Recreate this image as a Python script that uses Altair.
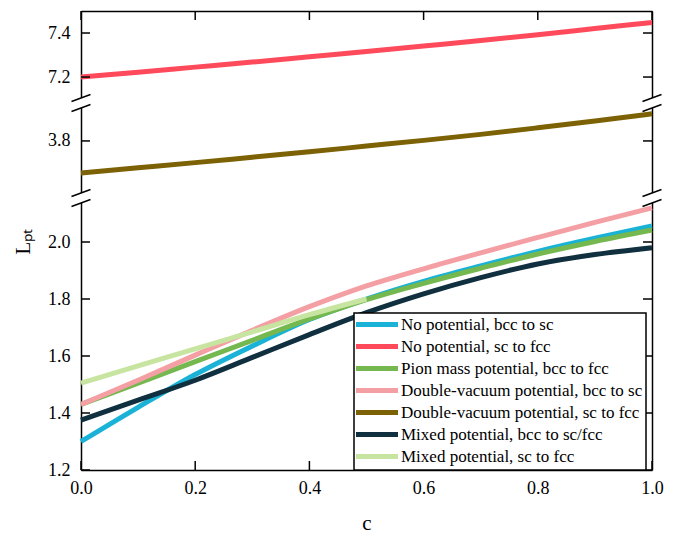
import altair as alt
import pandas as pd

# ---------------- data ----------------
c_full = [0.0, 0.1, 0.2, 0.3, 0.4, 0.5, 0.6, 0.7, 0.8, 0.9, 1.0]
c_half = [0.0, 0.1, 0.2, 0.3, 0.4, 0.5]
x_ticks = [0.0, 0.2, 0.4, 0.6, 0.8, 1.0]

series_names = [
    "No potential, bcc to sc",
    "No potential, sc to fcc",
    "Pion mass potential, bcc to fcc",
    "Double-vacuum potential, bcc to sc",
    "Double-vacuum potential, sc to fcc",
    "Mixed potential, bcc to sc/fcc",
    "Mixed potential, sc to fcc",
]
series_colors = ["#1AB2D6", "#FF4A5B", "#74B84F", "#F49FA3", "#7C6204", "#10303F", "#C7E5A0"]

no_pot_bcc_sc = [1.30, 1.42, 1.535, 1.635, 1.728, 1.80, 1.862, 1.916, 1.967, 2.013, 2.056]
no_pot_sc_fcc = [7.20, 7.222, 7.245, 7.268, 7.292, 7.316, 7.341, 7.366, 7.392, 7.42, 7.448]
pion_bcc_fcc = [1.43, 1.505, 1.58, 1.655, 1.73, 1.798, 1.855, 1.908, 1.958, 2.002, 2.042]
dv_bcc_sc = [1.43, 1.515, 1.603, 1.69, 1.773, 1.846, 1.906, 1.962, 2.016, 2.069, 2.12]
dv_sc_fcc = [3.688, 3.706, 3.724, 3.743, 3.762, 3.782, 3.802, 3.823, 3.846, 3.87, 3.895]
mixed_bcc_scfcc = [1.375, 1.445, 1.515, 1.595, 1.675, 1.752, 1.818, 1.875, 1.923, 1.956, 1.98]
mixed_sc_fcc = [1.505, 1.565, 1.625, 1.685, 1.745, 1.80]

top_ticks = [7.2, 7.4]
mid_ticks = [3.8]
bot_ticks = [1.2, 1.4, 1.6, 1.8, 2.0]

panel_top = "top"
panel_mid = "mid"
panel_bot = "bot"

rows = []
def add(name, panel, cs, vals):
    for cc, v in zip(cs, vals):
        rows.append({"c": cc, "L": v, "series": name, "panel": panel})

add(series_names[0], panel_bot, c_full, no_pot_bcc_sc)
add(series_names[1], panel_top, c_full, no_pot_sc_fcc)
add(series_names[2], panel_bot, c_full, pion_bcc_fcc)
add(series_names[3], panel_bot, c_full, dv_bcc_sc)
add(series_names[4], panel_mid, c_full, dv_sc_fcc)
add(series_names[5], panel_bot, c_full, mixed_bcc_scfcc)
add(series_names[6], panel_bot, c_half, mixed_sc_fcc)
df = pd.DataFrame(rows)

# ---------------- styling ----------------
FONT = "Liberation Serif"
W = 571
TL = 9  # inward tick length
SLASHES = "M-0.95,-0.15L0.95,-0.85M-0.95,0.85L0.95,0.15"
GAP = "M-0.95,-0.15L0.95,-0.85L0.95,0.15L-0.95,0.85Z"

color = alt.Color(
    "series:N",
    sort=series_names,
    scale=alt.Scale(domain=series_names, range=series_colors),
    legend=alt.Legend(
        orient="none", legendX=273, legendY=302, title=None,
        symbolType="M-1.9,0H6.5", symbolSize=100, symbolStrokeWidth=5,
        labelFont=FONT, labelFontSize=17, labelColor="black", labelLimit=0,
        labelOffset=27, rowPadding=1, padding=3,
        strokeColor="black", fillColor="white",
    ),
)

xscale = alt.Scale(domain=[0, 1], nice=False, zero=False)


def panel(name, domain, height, yvals, xaxis, xside, breaks, ytitle=False):
    d = df[df.panel == name]
    yscale = alt.Scale(domain=domain, nice=False, zero=False)

    def X():
        return alt.X("c:Q", scale=xscale, axis=xaxis)

    def Ynone():
        return alt.Y("L:Q", scale=yscale, axis=None)

    left_kw = dict(orient="left", values=yvals, format=".1f", ticks=False,
                   labelPadding=11, grid=False)
    if ytitle:
        left_kw.update(title="Lₚₜ", titleFont=FONT, titleFontSize=21,
                       titleFontWeight="normal", titleColor="black", titleX=-48, titleY=43)
    else:
        left_kw.update(title=None)

    lines = alt.Chart(d).mark_line(strokeWidth=5, interpolate="monotone").encode(
        x=X(), y=alt.Y("L:Q", scale=yscale, axis=alt.Axis(**left_kw)), color=color,
    )
    right = alt.Chart(d).mark_line(opacity=0).encode(
        x=X(),
        y=alt.Y("L:Q", scale=yscale, axis=alt.Axis(orient="right", values=yvals, labels=False,
                                                    ticks=False, title=None, grid=False)),
        detail="series:N",
    )
    tdf = pd.DataFrame({"L": yvals})
    lt = alt.Chart(tdf).mark_rule(color="black", strokeWidth=1.5).encode(
        y=Ynone(), x=alt.value(0), x2=alt.value(TL))
    rt = alt.Chart(tdf).mark_rule(color="black", strokeWidth=1.5).encode(
        y=Ynone(), x=alt.value(W - TL), x2=alt.value(W))
    layers = [lines, right, lt, rt]
    if xside is not None:
        xdf = pd.DataFrame({"c": x_ticks})
        y0, y1 = (0, TL) if xside == "top" else (height - TL, height)
        layers.append(alt.Chart(xdf).mark_rule(color="black", strokeWidth=1.5).encode(
            x=X(), y=alt.value(y0), y2=alt.value(y1)))
    if breaks:
        bdf = pd.DataFrame({"c": [0.0, 1.0], "L": [domain[1], domain[1]]})
        b = alt.Chart(bdf)
        layers.append(b.mark_point(shape=GAP, size=400, filled=True, fill="white",
                                   strokeWidth=0, opacity=1).encode(x=X(), y=Ynone()))
        layers.append(b.mark_point(shape=SLASHES, size=400, filled=False, stroke="black",
                                   strokeWidth=1.4, opacity=1).encode(x=X(), y=Ynone()))
    return alt.layer(*layers).resolve_scale(y="independent").properties(width=W, height=height)


top_x = alt.Axis(orient="top", values=x_ticks, labels=False, ticks=False, title=None, grid=False)
bot_x = alt.Axis(orient="bottom", values=x_ticks, format=".1f", ticks=False, labelPadding=9,
                 labelFlush=False,
                 title="c", titleFont=FONT, titleFontSize=21, titleFontWeight="normal",
                 titleColor="black", titlePadding=15, grid=False)

p_top = panel(panel_top, [7.082, 7.5], 92, top_ticks, top_x, "top", False)
p_mid = panel(panel_mid, [3.6, 3.933], 95, mid_ticks, None, None, True)
p_bot = panel(panel_bot, [1.2, 2.1544], 272, bot_ticks, bot_x, "bottom", True, ytitle=True)

chart = alt.vconcat(p_top, p_mid, p_bot, spacing=0, bounds="flush").properties(
    padding={"left": 12, "top": 10, "right": 5, "bottom": 5}
).configure(font=FONT).configure_view(stroke=None).configure_axis(
    labelFont=FONT, labelFontSize=18, labelColor="black",
    domainColor="black", domainWidth=1.5,
).configure_legend(strokeWidth=1.5)

chart.save("out.html", embed_options={"renderer": "svg", "actions": False})
